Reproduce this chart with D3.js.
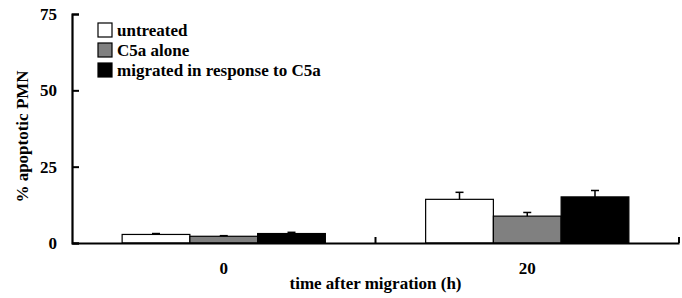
<!DOCTYPE html>
<html>
<head>
<meta charset="utf-8">
<script src="https://cdn.jsdelivr.net/npm/d3@7"></script>
<style>
  body { margin: 0; background: #fff; }
  text { font-family: "Liberation Serif", "Times New Roman", serif; font-weight: bold; }
</style>
</head>
<body>
<div class="chart"></div>
<script>
const width = 682
const height = 298
const margin = { top: 14, right: 3, bottom: 55, left: 72 }

const categories = ['0', '20']
const seriesNames = ['untreated', 'C5a alone', 'migrated in response to C5a']
const seriesColors = ['#ffffff', '#808080', '#000000']
// values per series, per category
const untreated = [2.8, 14.3]
const c5aAlone = [2.2, 8.8]
const migrated = [3.1, 15.1]
const untreatedErr = [0.3, 2.3]
const c5aAloneErr = [0.2, 1.2]
const migratedErr = [0.4, 2.1]
const yTicks = [0, 25, 50, 75]

const seriesValues = [untreated, c5aAlone, migrated]
const seriesErrors = [untreatedErr, c5aAloneErr, migratedErr]

const data = []
categories.forEach((cat, ci) => {
  seriesNames.forEach((name, si) => {
    data.push({ cat, name, si, value: seriesValues[si][ci], err: seriesErrors[si][ci] })
  })
})

const svg = d3.select('div.chart')
  .append('svg')
  .attr('width', width)
  .attr('height', height)

const x0 = d3.scaleBand()
  .domain(categories)
  .range([margin.left, width - margin.right])

const x1 = d3.scaleBand()
  .domain(seriesNames)
  .range([0, x0.bandwidth()])
  .paddingOuter(0.74)

const y = d3.scaleLinear()
  .domain([0, 75])
  .range([243, margin.top])

// bars
const bars = svg.append('g')
bars.selectAll('rect')
  .data(data)
  .join('rect')
    .attr('x', d => x0(d.cat) + x1(d.name))
    .attr('y', d => y(d.value))
    .attr('width', x1.bandwidth())
    .attr('height', d => y(0) - y(d.value))
    .attr('fill', d => seriesColors[d.si])
    .attr('stroke', '#000')
    .attr('stroke-width', 1.2)

// error bars (upper only)
const errs = svg.append('g').attr('stroke', '#000').attr('stroke-width', 1.5)
data.forEach(d => {
  const cx = x0(d.cat) + x1(d.name) + x1.bandwidth() / 2
  errs.append('line')
    .attr('x1', cx).attr('x2', cx)
    .attr('y1', y(d.value)).attr('y2', y(d.value + d.err))
  errs.append('line')
    .attr('x1', cx - 4).attr('x2', cx + 4)
    .attr('y1', y(d.value + d.err)).attr('y2', y(d.value + d.err))
})

// y axis
const yAxis = svg.append('g')
  .attr('transform', `translate(${margin.left},0)`)
  .call(d3.axisLeft(y).tickValues(yTicks).tickSize(-7).tickPadding(15))
yAxis.select('.domain').attr('stroke-width', 2.2)
yAxis.selectAll('.tick line').attr('stroke-width', 2)
yAxis.selectAll('text').attr('font-size', 17).attr('fill', '#000')

// x axis
const xAxis = svg.append('g')
  .attr('transform', `translate(0,${y(0)})`)
  .call(d3.axisBottom(x0).tickSize(0).tickPadding(19))
xAxis.select('.domain').attr('stroke-width', 2.2)
xAxis.selectAll('text').attr('font-size', 17).attr('fill', '#000')

// category boundary ticks pointing up
const bounds = [x0(categories[1]), width - margin.right]
svg.append('g').selectAll('line')
  .data(bounds)
  .join('line')
    .attr('x1', d => d).attr('x2', d => d)
    .attr('y1', y(0)).attr('y2', y(0) - 6)
    .attr('stroke', '#000')
    .attr('stroke-width', 2)

// axis titles
svg.append('text')
  .attr('transform', `translate(28,${(y(0) + y(75)) / 2 + 8}) rotate(-90)`)
  .attr('text-anchor', 'middle')
  .attr('font-size', 17)
  .text('% apoptotic PMN')

svg.append('text')
  .attr('x', (margin.left + width - margin.right) / 2)
  .attr('y', 289)
  .attr('text-anchor', 'middle')
  .attr('font-size', 17)
  .text('time after migration (h)')

// legend
const legend = svg.append('g').attr('transform', 'translate(98,23)')
seriesNames.forEach((name, i) => {
  const row = legend.append('g').attr('transform', `translate(0,${i * 20})`)
  row.append('rect')
    .attr('width', 14).attr('height', 14)
    .attr('fill', seriesColors[i])
    .attr('stroke', '#000')
    .attr('stroke-width', 1.2)
  row.append('text')
    .attr('x', 19).attr('y', 13)
    .attr('font-size', 17)
    .text(name)
})
</script>
</body>
</html>
